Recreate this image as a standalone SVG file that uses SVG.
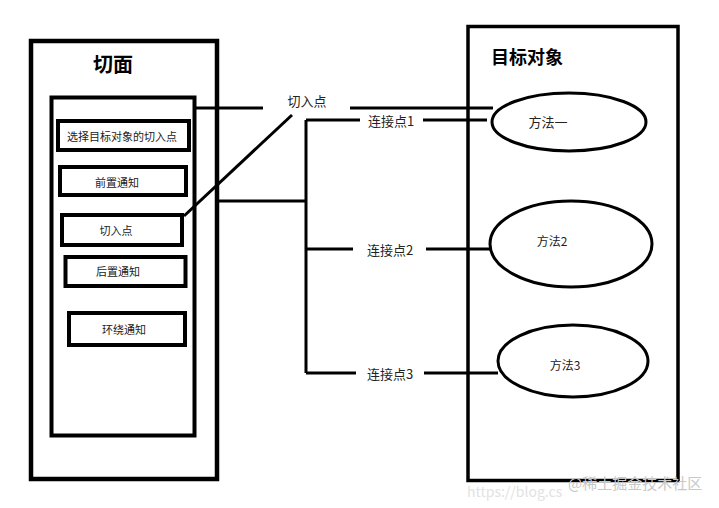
<svg xmlns="http://www.w3.org/2000/svg" width="719" height="508" viewBox="0 0 719 508">
<style>
.box{fill:#fff;stroke:#000;stroke-width:4.5}
.ib{fill:#fff;stroke:#000;stroke-width:4}
.ell{fill:#fff;stroke:#000;stroke-width:3}
.ln{fill:none;stroke:#000;stroke-width:3}
.t{font-family:"Microsoft YaHei","Noto Sans CJK SC",sans-serif;fill:#222;text-anchor:middle;dominant-baseline:central}
.s{font-size:11px}
.m{font-size:13px}
.h{font-size:20px;font-weight:bold;fill:#000}
.wm{font-family:"Noto Sans CJK SC",sans-serif;fill:#c8c8c8}
</style>
<rect width="719" height="508" fill="#fff"/>
<g id="aspect">
<rect class="box" x="31" y="41" width="186" height="438"/>
<text class="t h" x="113" y="63">切面</text>
<rect class="ib" x="51.5" y="97.5" width="143" height="338"/>
</g>
<g id="node-select">
<rect class="ib" x="58" y="121" width="131" height="29"/>
<text class="t s" x="122" y="136">选择目标对象的切入点</text>
</g>
<g id="node-before">
<rect class="ib" x="60" y="167" width="126" height="28"/>
<text class="t s" x="117" y="182">前置通知</text>
</g>
<g id="node-pointcut">
<rect class="ib" x="62" y="215" width="120" height="30"/>
<text class="t s" x="116" y="230">切入点</text>
</g>
<g id="node-after">
<rect class="ib" x="65.5" y="257" width="120" height="29"/>
<text class="t s" x="118" y="271">后置通知</text>
</g>
<g id="node-around">
<rect class="ib" x="69" y="313" width="116" height="32"/>
<text class="t s" x="124" y="329">环绕通知</text>
</g>
<g id="target">
<rect class="box" x="468" y="26.5" width="210" height="454" style="stroke-width:3.5"/>
<text class="t h" x="527" y="56" style="font-size:18px">目标对象</text>
</g>
<g id="method1">
<ellipse class="ell" cx="569" cy="122" rx="77" ry="29"/>
<text class="t m" x="548" y="121">方法一</text>
</g>
<g id="method2">
<ellipse class="ell" cx="571" cy="244" rx="81" ry="43"/>
<text class="t" x="552" y="240" style="font-size:12px">方法2</text>
</g>
<g id="method3">
<ellipse class="ell" cx="573" cy="361" rx="75" ry="36"/>
<text class="t" x="565" y="364" style="font-size:12px">方法3</text>
</g>
<g id="connectors">
<path class="ln" d="M196 108H263M350 108H493"/>
<path class="ln" d="M184 216L292 115"/>
<path class="ln" d="M218 201H306M306 120V373"/>
<path class="ln" d="M306 120H360M423 120H487"/>
<path class="ln" d="M306 249H353M426 249H490"/>
<path class="ln" d="M306 373H356M424 373H498"/>
<text class="t m" x="307" y="100">切入点</text>
<text class="t m" x="391" y="120">连接点1</text>
<text class="t m" x="390" y="249">连接点2</text>
<text class="t m" x="390" y="373">连接点3</text>
</g>
<g id="watermark">
<text class="wm" x="467" y="497" style="font-size:14px;fill:#e2e2e2">https://blog.cs</text>
<text class="wm" x="568" y="489" style="font-size:15px">@稀土掘金技术社区</text>
</g>
</svg>
